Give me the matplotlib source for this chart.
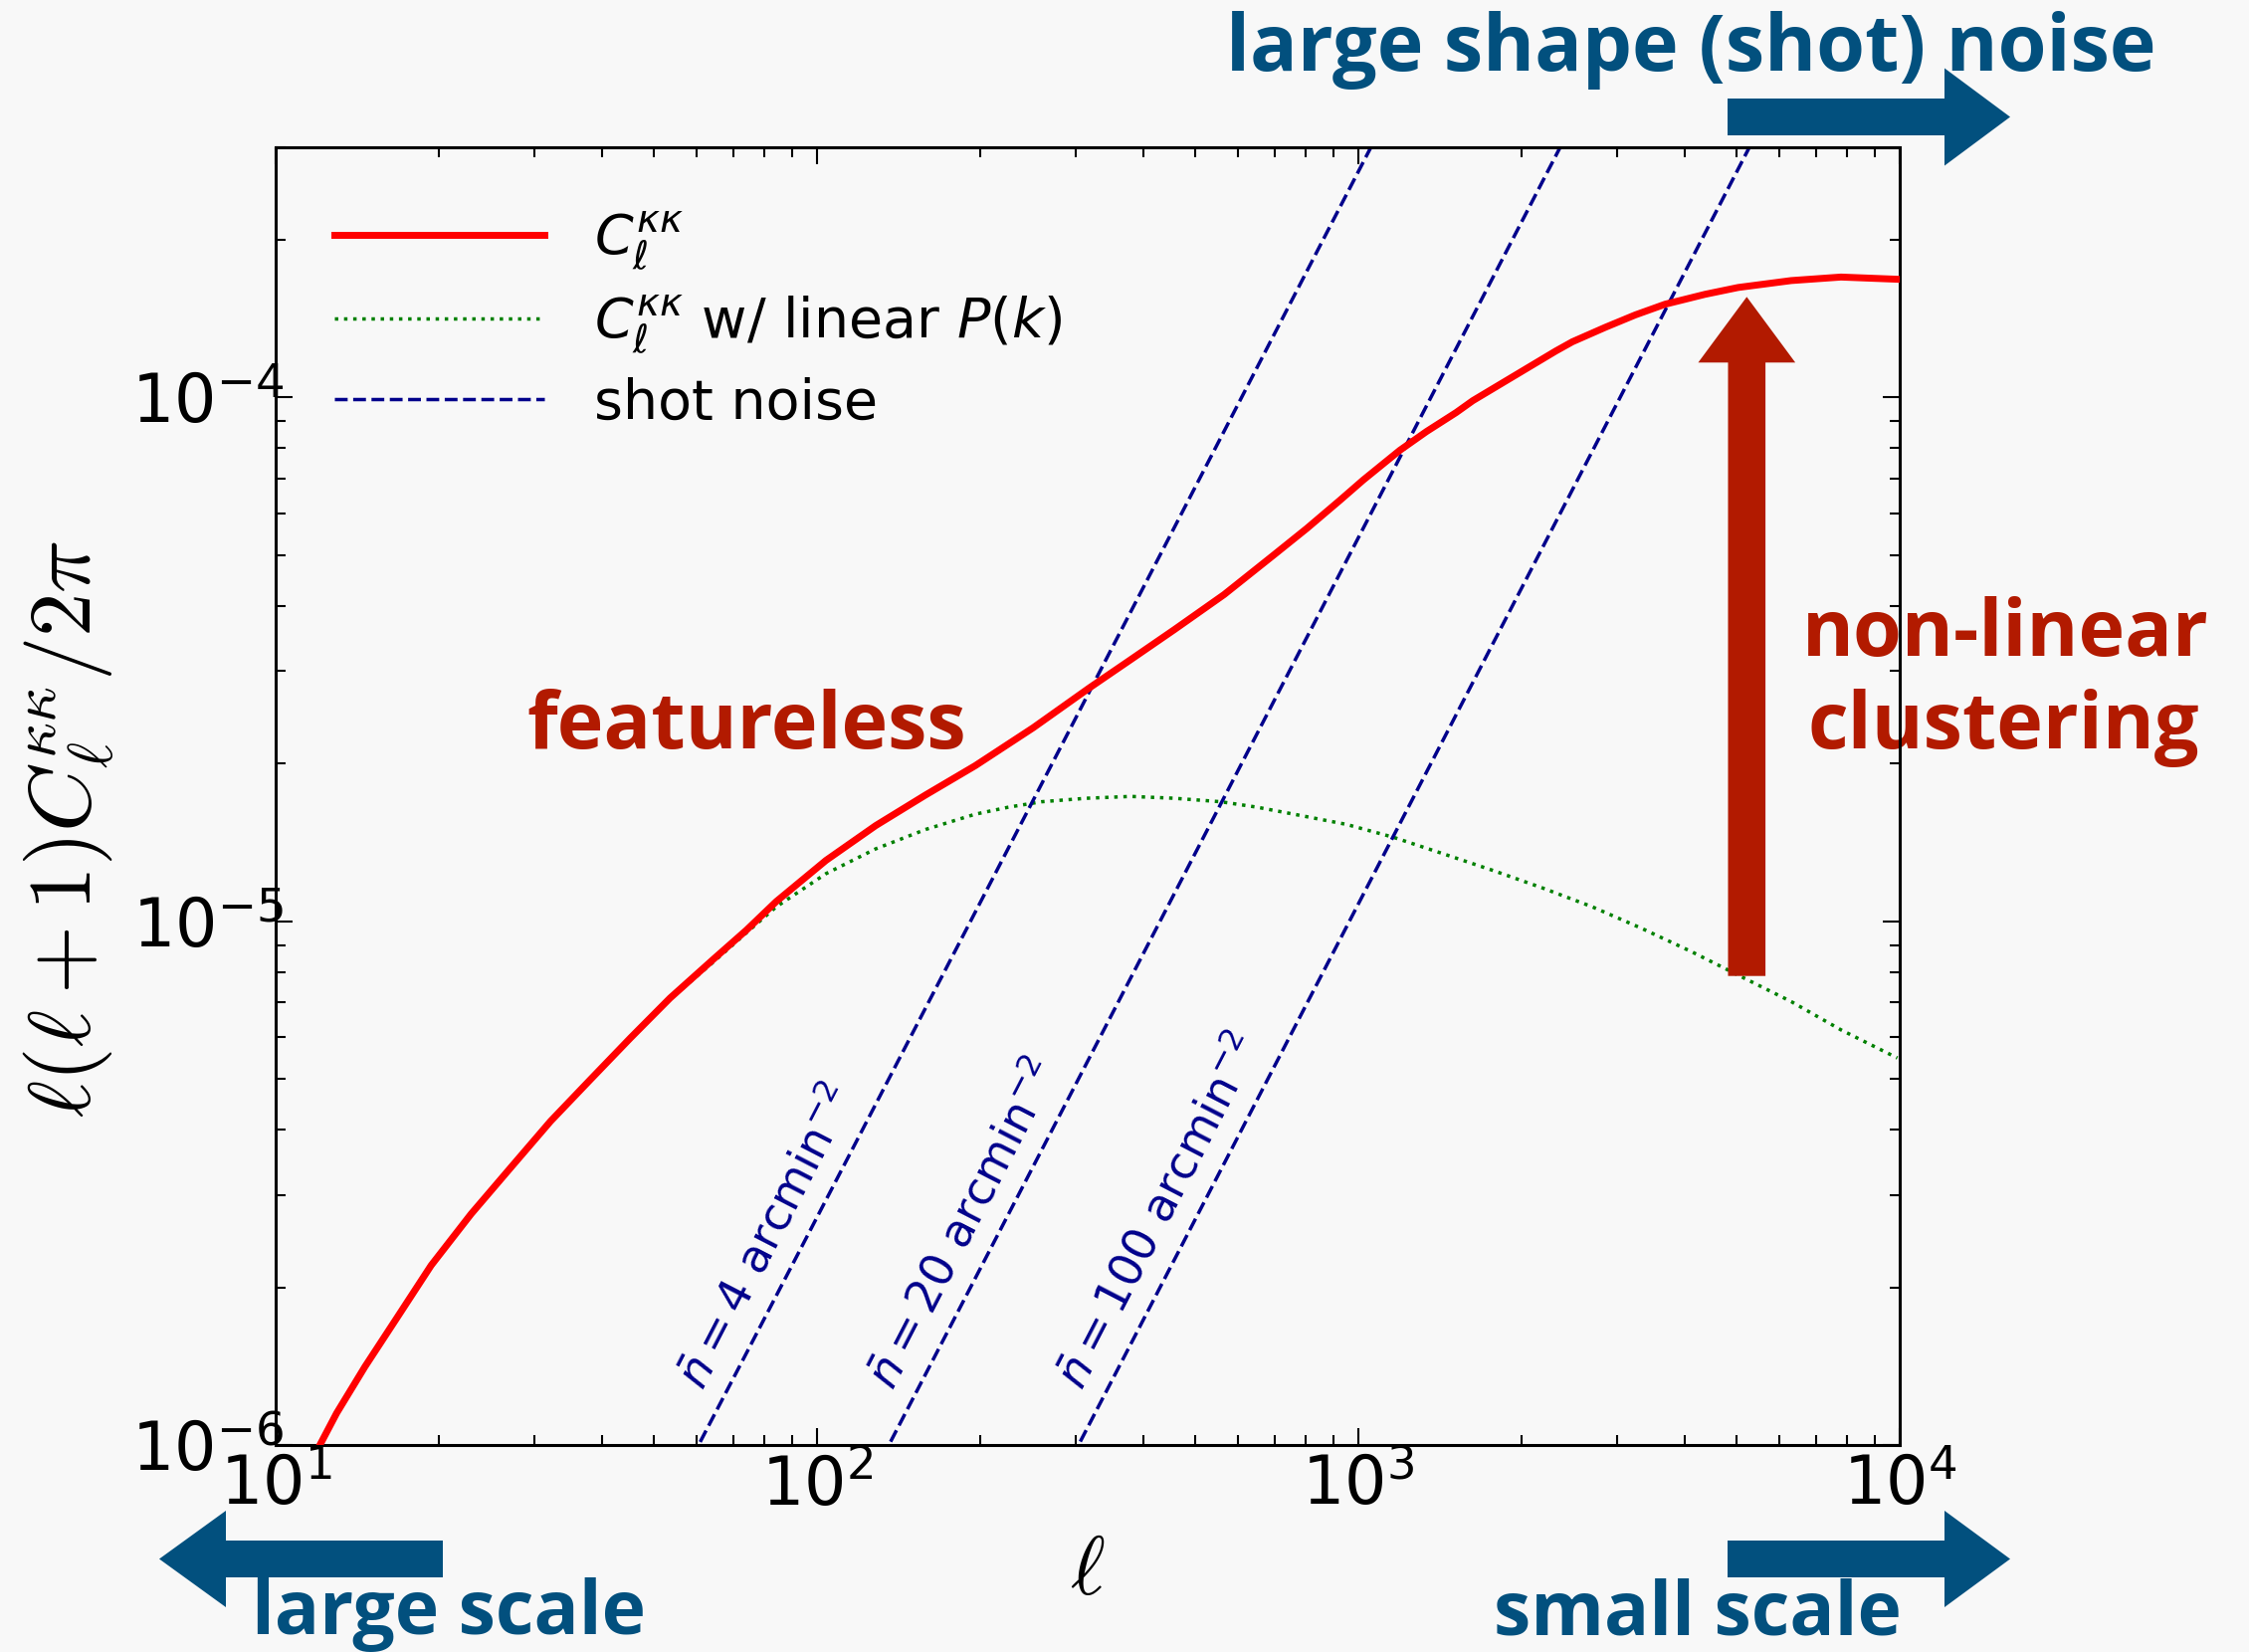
import numpy as np
import matplotlib
matplotlib.use("Agg")
import matplotlib.pyplot as plt
from matplotlib.patches import Polygon

# Convergence power spectrum l(l+1)C_l/2pi, full non-linear model
ell_nl = [12.07, 12.96, 14.62, 16.8, 19.38, 22.96, 27.19, 32.2, 38.15, 45.2, 53.52,
          64.3, 74.05, 84.1, 103.9, 128.4, 158.7, 196.0, 250.9, 318.9, 380.4,
          457.0, 564.8, 698.0, 803.5, 925.0, 1021.0, 1193.0, 1336.0, 1516.0, 1627.0,
          1874.0, 2315.0, 2485.0, 2860.0, 3248.0, 3687.0, 4369.0, 5030.0, 6305.0,
          7791.0, 10000.0]
cl_nl = [1.0e-6, 1.15e-6, 1.411e-6, 1.757e-6, 2.203e-6, 2.76e-6, 3.386e-6, 4.15e-6,
         4.985e-6, 5.98e-6, 7.13e-6, 8.45e-6, 9.61e-6, 1.09e-5, 1.306e-5,
         1.522e-5, 1.741e-5, 1.98e-5, 2.34e-5, 2.79e-5, 3.16e-5, 3.6e-5, 4.2e-5,
         5.0e-5, 5.62e-5, 6.36e-5, 6.95e-5, 7.92e-5, 8.6e-5, 9.35e-5, 9.85e-5,
         1.075e-4, 1.225e-4, 1.276e-4, 1.36e-4, 1.436e-4, 1.505e-4, 1.572e-4,
         1.62e-4, 1.67e-4, 1.696e-4, 1.679e-4]

# Same spectrum computed with the linear matter power spectrum
ell_lin = [12.07, 12.96, 14.62, 16.8, 19.38, 22.96, 27.19, 32.2, 38.15, 45.2, 53.52,
           64.3, 74.05, 84.1, 103.9, 128.4, 158.7, 196.0, 225.7, 260.0, 314.5, 380.0,
           457.0, 557.0, 650.0, 760.0, 950.0, 1160.0, 1433.0, 1771.0, 2188.0, 2704.0,
           3342.0, 4128.0, 5102.0, 6305.0, 7791.0, 9900.0]
cl_lin = [1.0e-6, 1.15e-6, 1.411e-6, 1.757e-6, 2.203e-6, 2.76e-6, 3.386e-6, 4.15e-6,
          4.985e-6, 5.98e-6, 7.1e-6, 8.35e-6, 9.5e-6, 1.065e-5, 1.232e-5, 1.374e-5,
          1.496e-5, 1.60e-5, 1.65e-5, 1.69e-5, 1.716e-5, 1.73e-5, 1.716e-5, 1.69e-5,
          1.65e-5, 1.60e-5, 1.53e-5, 1.446e-5, 1.345e-5, 1.25e-5, 1.157e-5, 1.065e-5,
          9.68e-6, 8.74e-6, 7.83e-6, 7.02e-6, 6.2e-6, 5.48e-6]

# Galaxy number densities [arcmin^-2] and shape-noise variance per component
nbar_arcmin2 = [4, 20, 100]
shape_noise_var = 0.08

xlim = (10, 1e4)
ylim = (1e-6, 3.0e-4)

plt.rcParams["mathtext.fontset"] = "cm"
plt.rcParams["font.family"] = ["DejaVu Sans"]

W, H = 2260, 1660
BG = "#f8f8f8"
BLUE = "#02507e"
DARKRED = "#b21a00"

fig = plt.figure(figsize=(W / 100, H / 100), dpi=100, facecolor=BG)
ax = fig.add_axes([277 / W, 1 - 1452 / H, (1909 - 277) / W, (1452 - 148) / H])
ax.set_facecolor("none")
ax.set_zorder(2)

ax.set_xscale("log")
ax.set_yscale("log")
ax.set_xlim(*xlim)
ax.set_ylim(*ylim)

ax.plot(ell_nl, cl_nl, color="red", lw=5, label=r"$C_\ell^{\kappa\kappa}$", zorder=3)
ax.plot(ell_lin, cl_lin, color="green", ls=":", lw=2.5,
        label=r"$C_\ell^{\kappa\kappa}$ w/ linear $P(k)$", zorder=2)

# Shot noise  N_l = l(l+1)/(2 pi) * sigma_e^2 / n
arcmin2_per_sr = (180.0 * 60.0 / np.pi) ** 2
ell = np.logspace(1, 4, 400)
label_level = 1.27e-6
for i, nb in enumerate(nbar_arcmin2):
    n_sr = nb * arcmin2_per_sr
    noise = ell * (ell + 1) / (2 * np.pi) * shape_noise_var / n_sr
    ax.plot(ell, noise, ls="--", color="#00008b", lw=2.5,
            label="shot noise" if i == 0 else None, zorder=2)
    # multipole where this noise curve reaches the label level
    X = label_level * 2 * np.pi * n_sr / shape_noise_var
    l_at = (-1 + np.sqrt(1 + 4 * X)) / 2
    p1 = ax.transData.transform((l_at, label_level))
    p2 = ax.transData.transform((l_at * 4, label_level * 16))
    ang = np.degrees(np.arctan2(p2[1] - p1[1], p2[0] - p1[0]))
    ax.text(l_at * 0.9, label_level,
            r"$\bar{n} = %d\ \mathrm{arcmin}^{-2}$" % nb,
            rotation=ang, rotation_mode="anchor", ha="left", va="baseline",
            fontsize=33, color="#00008b", math_fontfamily="dejavusans")

ax.tick_params(which="both", direction="in", top=True, right=True, width=1.5)
ax.tick_params(which="major", length=12, labelsize=48)
ax.tick_params(which="minor", length=7)
ax.tick_params(axis="x", which="major", pad=6)
ax.tick_params(axis="y", which="major", pad=-6)
for sp in ax.spines.values():
    sp.set_linewidth(2.2)

ax.set_xlabel(r"$\ell$", fontsize=60)
ax.set_ylabel(r"$\ell(\ell+1)C_\ell^{\kappa\kappa}/2\pi$", fontsize=64)
ax.xaxis.set_label_coords(0.5, -0.066)
ax.yaxis.set_label_coords(-0.098, 0.475)

leg = ax.legend(loc="upper left", bbox_to_anchor=(0.036, 0.952), frameon=False,
                fontsize=40, handlelength=3.8, handletextpad=0.9, labelspacing=0.38,
                borderpad=0, borderaxespad=0)
for t in leg.get_texts():
    t.set_math_fontfamily("dejavusans")


def px(x, y):
    return (x / W, 1 - y / H)


def block_arrow_h(x_tail, x_tip, cy, body_half, head_half, head_len, color):
    s = 1 if x_tip > x_tail else -1
    xb = x_tip - s * head_len
    pts = [px(x_tail, cy - body_half), px(xb, cy - body_half), px(xb, cy - head_half),
           px(x_tip, cy), px(xb, cy + head_half), px(xb, cy + body_half),
           px(x_tail, cy + body_half)]
    return Polygon(pts, closed=True, facecolor=color, edgecolor="none",
                   transform=fig.transFigure)


def block_arrow_v(cx, y_tail, y_tip, body_half, head_half, head_len, color):
    yb = y_tip + head_len
    pts = [px(cx - body_half, y_tail), px(cx - body_half, yb), px(cx - head_half, yb),
           px(cx, y_tip), px(cx + head_half, yb), px(cx + body_half, yb),
           px(cx + body_half, y_tail)]
    return Polygon(pts, closed=True, facecolor=color, edgecolor="none",
                   transform=fig.transFigure)


# scale-direction arrows around the frame
for arr in (block_arrow_h(1736, 2020, 117.5, 18.5, 49, 66, BLUE),
            block_arrow_h(1736, 2020, 1566.5, 18.5, 48.5, 66, BLUE),
            block_arrow_h(445, 160, 1566.5, 18.5, 48.5, 67, BLUE)):
    arr.set_zorder(1)
    fig.add_artist(arr)

# non-linear boost arrow inside the panel
up = block_arrow_v(1755.3, 980.7, 298.3, 18.8, 48.8, 66, DARKRED)
up.set_zorder(5)
up.set_clip_on(False)
ax.add_artist(up)

txt_kw = dict(family="Open Sans", fontweight="bold", va="baseline", zorder=1)
fig.text(*px(1232, 71), "large shape (shot) noise", ha="left", color=BLUE,
         fontsize=57, **txt_kw)
fig.text(*px(253, 1642), "large scale", ha="left", color=BLUE, fontsize=54, **txt_kw)
fig.text(*px(1501, 1642), "small scale", ha="left", color=BLUE, fontsize=54, **txt_kw)
fig.text(*px(529, 752), "featureless", ha="left", color=DARKRED, fontsize=57, **txt_kw)
fig.text(*px(2015, 659), "non-linear", ha="center", color=DARKRED, fontsize=57, **txt_kw)
fig.text(*px(2013, 752), "clustering", ha="center", color=DARKRED, fontsize=57, **txt_kw)

fig.savefig("out.png", dpi=100, facecolor=BG)
